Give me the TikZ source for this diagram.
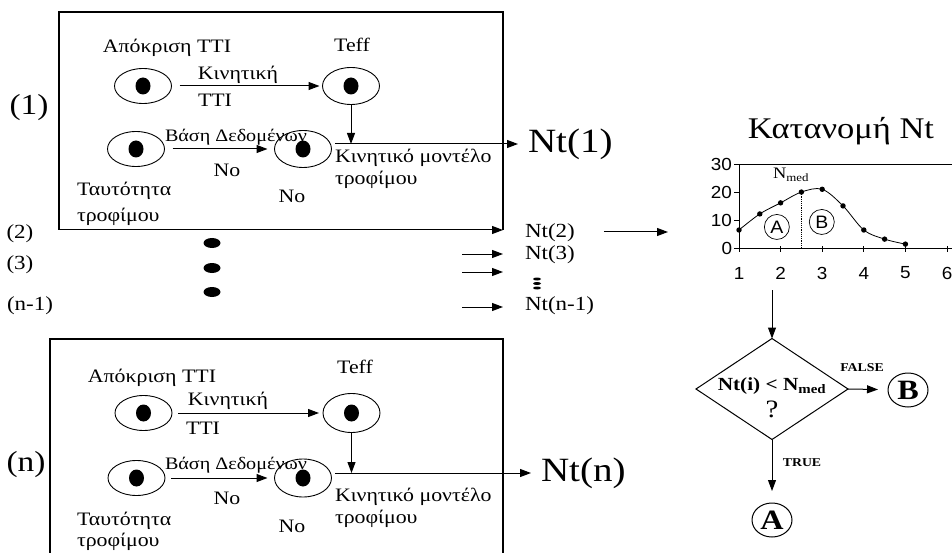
\documentclass[tikz,border=0pt]{standalone}
\usepackage{fontspec}
\usepackage{graphicx}
\setmainfont{Liberation Serif}[FakeStretch=1.15]
\newfontfamily\arialf{Liberation Sans}[FakeStretch=1.08]
\usetikzlibrary{arrows.meta,shapes.geometric,calc}
\begin{document}
\begin{tikzpicture}[x=1pt,y=-1pt,
  every node/.style={inner sep=0pt, outer sep=0pt},
  ln/.style={line width=1.2pt},
  arr/.style={line width=1pt, -{Triangle[length=11pt,width=8pt]}},
  ell/.style={draw, line width=0.9pt, ellipse, minimum width=57pt, minimum height=35pt,
    path picture={\fill (path picture bounding box.center) ellipse [x radius=7.5pt, y radius=8.5pt];}},
  lbl/.style={font=\fontsize{19}{21}\selectfont},
  lblsm/.style={font=\fontsize{17.5}{19}\selectfont},
  sidebig/.style={font=\fontsize{29}{31}\selectfont},
  sidesm/.style={font=\fontsize{20}{22}\selectfont},
  ntbig/.style={font=\fontsize{34}{36}\selectfont, anchor=west},
  ntsm/.style={font=\fontsize{20}{22}\selectfont, anchor=west},
  bigdot/.style={fill, ellipse, minimum width=17pt, minimum height=10pt},
  tinydot/.style={fill, ellipse, minimum width=8pt, minimum height=3pt},
  tick/.style={font=\arialf\fontsize{17.5}{19}\selectfont},
  res/.style={draw, line width=1pt, ellipse, minimum width=40pt, minimum height=34pt,
    font=\bfseries\fontsize{28}{28}\selectfont},
  tf/.style={font=\bfseries\fontsize{12}{14}\selectfont},
]
\useasboundingbox (0,0) rectangle (952,553);

% ---------------- box (1) ----------------
\coordinate (a-tl) at (59,12);
\coordinate (a-tr) at (503,12);
\coordinate (a-bl) at (59,230);
\coordinate (a-br) at (503,230);
\draw[ln] (a-bl) -- (a-tl) -- (a-tr) -- (a-br);
\draw[arr] (a-bl) -- (a-br);

\node[sidebig] (lab1) at (29,108) {(1)};
\node[lbl] (a-resp-lbl) at (167,48) {Απόκριση TTI};
\node[ell] (a-resp) at (143,86) {};
\node[lbl] (a-kin) at (238,75) {Κινητική};
\node[lbl] (a-tti) at (215,100) {TTI};
\node[lbl] (a-teff-lbl) at (352,45) {Teff};
\node[ell, minimum height=37pt] (a-teff) at (351,86) {};
\draw[arr, shorten <=8pt, shorten >=3pt] (a-resp) -- (a-teff);

\node[ell] (a-id) at (136,149) {};
\node[ell, minimum height=37pt] (a-no) at (303,149) {};
\node[lblsm] (a-db) at (236,137) {Βάση Δεδομένων};
\node[lbl] (a-no1) at (227,170) {No};
\draw[arr, shorten <=8pt, shorten >=7pt] (a-id) -- (a-no);
\node[lbl] (a-no2) at (292,196) {No};
\node[lbl, anchor=west] (a-idt1) at (77,191) {Ταυτότητα};
\node[lbl, anchor=west] (a-idt2) at (77,217) {τροφίμου};
\node[lbl, anchor=west] (a-km1) at (335,158) {Κινητικό μοντέλο};
\node[lbl, anchor=west] (a-km2) at (335,180) {τροφίμου};

\coordinate (a-meet) at (351,144);
\coordinate (a-out) at (335,144);
\draw[arr] (a-teff) -- (a-meet);
\node[ntbig] (nt1) at (528,144) {Nt(1)};
\draw[arr, shorten >=10pt] (a-out) -- (nt1.west);

% ---------------- middle rows ----------------
\node[sidesm] (lab2) at (20,234) {(2)};
\node[sidesm] (lab3) at (20,265) {(3)};
\node[sidesm] (labn1) at (30,306) {(n-1)};
\node[bigdot] (d1) at (212,243) {};
\node[bigdot] (d2) at (212,268) {};
\node[bigdot] (d3) at (212,292) {};

\node[ntsm] (nt2) at (525,233) {Nt(2)};
\node[ntsm] (nt3) at (525,255) {Nt(3)};
\node[ntsm] (ntn1) at (525,306) {Nt(n-1)};
\node[tinydot] (v1) at (537,279) {};
\node[tinydot] (v2) at (537,283.5) {};
\node[tinydot] (v3) at (537,288) {};

\coordinate (s3) at (462,254);
\coordinate (s4) at (462,272);
\coordinate (e4) at (503,272);
\coordinate (s5) at (462,307);
\draw[arr, shorten >=22pt] (s3) -- (s3 -| nt3.west);
\draw[arr] (s4) -- (e4);
\draw[arr, shorten >=22pt] (s5) -- (s5 -| ntn1.west);

\coordinate (chart-in) at (668,232);
\draw[arr, shorten <=29pt] (nt2.east |- chart-in) -- (chart-in);

% ---------------- box (n) ----------------
\coordinate (b-tl) at (50,339);
\coordinate (b-tr) at (503,339);
\coordinate (b-bl) at (50,553);
\coordinate (b-br) at (503,553);
\draw[ln] (b-bl) -- (b-tl) -- (b-tr) -- (b-br);

\node[sidebig] (labn) at (26,465) {(n)};
\node[lbl] (b-resp-lbl) at (152,378) {Απόκριση TTI};
\node[ell] (b-resp) at (143.5,413) {};
\node[lbl] (b-kin) at (228,401) {Κινητική};
\node[lbl] (b-tti) at (203,428) {TTI};
\node[lbl] (b-teff-lbl) at (355,367) {Teff};
\node[ell, minimum height=39pt] (b-teff) at (351.5,413) {};
\draw[arr, shorten <=6pt, shorten >=4pt] (b-resp) -- (b-teff);

\node[ell] (b-id) at (136.5,478) {};
\node[ell, minimum height=38pt] (b-no) at (303,478) {};
\node[lblsm] (b-db) at (236,465) {Βάση Δεδομένων};
\node[lbl] (b-no1) at (227,498) {No};
\draw[arr, shorten <=6pt, shorten >=7pt] (b-id) -- (b-no);
\node[lbl] (b-no2) at (292,526) {No};
\node[lbl, anchor=west] (b-idt1) at (77,521) {Ταυτότητα};
\node[lbl, anchor=west] (b-idt2) at (77,542) {τροφίμου};
\node[lbl, anchor=west] (b-km1) at (335,497) {Κινητικό μοντέλο};
\node[lbl, anchor=west] (b-km2) at (335,519) {τροφίμου};

\coordinate (b-meet) at (351.5,473);
\coordinate (b-out) at (335,473);
\draw[arr] (b-teff) -- (b-meet);
\node[ntbig] (ntn) at (541,473) {Nt(n)};
\draw[arr, shorten >=10pt] (b-out) -- (ntn.west);

% ---------------- chart ----------------
\node[font=\fontsize{30}{32}\selectfont] (title) at (841,131) {Κατανομή Nt};
\begin{scope}[shift={(697.4,248)}, x=41.6pt, y=2.77pt]
  \draw[line width=0.8pt] (1,0) -- (1,30) -- (6.12,30);
  \draw[line width=0.8pt] (1,0) -- (6.12,0);
  \foreach \v in {0,10,20,30} {
    \draw[line width=0.8pt] (1,\v) -- ++(-5pt,0pt);
    \node[tick, anchor=east] at ($(1,\v)+(-7pt,0pt)$) {\v};
  }
  \foreach \u in {1,...,6} {
    \draw[line width=0.8pt] (\u,0) ++(0pt,2pt) -- ++(0pt,-6pt);
    \node[tick] at ($(\u,0)+(0pt,-25pt)$) {\u};
  }
  \draw[line width=0.8pt] plot[smooth, tension=0.55] coordinates
    {(1,6.5) (1.5,12.3) (2,16.3) (2.5,20.2) (3,21.2) (3.5,15.2) (4,6.5) (4.5,3.2) (5,1.4)};
  \foreach \p in {(1,6.5),(1.5,12.3),(2,16.3),(2.5,20.2),(3,21.2),(3.5,15.2),(4,6.5),(4.5,3.2),(5,1.4)}
    \fill \p circle[radius=2.7pt];
  \draw[line width=1.2pt, densely dotted] (2.5,20.2) -- (2.5,0);
  \node[font=\fontsize{16}{18}\selectfont] (nmed) at (2.25,26.4) {N\textsubscript{med}};
  \node[draw, circle, line width=0.7pt, minimum size=25pt, font=\arialf\fontsize{18}{18}\selectfont] (cA) at (1.91,7.6) {A};
  \node[draw, circle, line width=0.7pt, minimum size=25pt, font=\arialf\fontsize{18}{18}\selectfont] (cB) at (2.99,9.4) {B};
\end{scope}

% ---------------- decision ----------------
\coordinate (chart-out) at (772,290);
\node[draw, diamond, line width=1pt, aspect=1.5, minimum width=152pt, minimum height=101pt] (dec) at (772,389) {};
\node[font=\bfseries\fontsize{18.5}{20}\selectfont] (dec-q) at (772,386) {Nt(i) < N\textsubscript{med}};
\node[font=\fontsize{25}{27}\selectfont] (dec-m) at (772,409) {?};
\draw[arr] (chart-out) -- (dec.north);

\node[res] (resB) at (908,390) {B};
\node[res] (resA) at (772,520) {A};
\draw[arr, shorten >=10pt] (dec.east) -- (resB);
\draw[arr, shorten >=12pt] (dec.south) -- (resA);
\node[tf] (lfalse) at (862,368) {FALSE};
\node[tf] (ltrue) at (802,463) {TRUE};
\end{tikzpicture}
\end{document}
